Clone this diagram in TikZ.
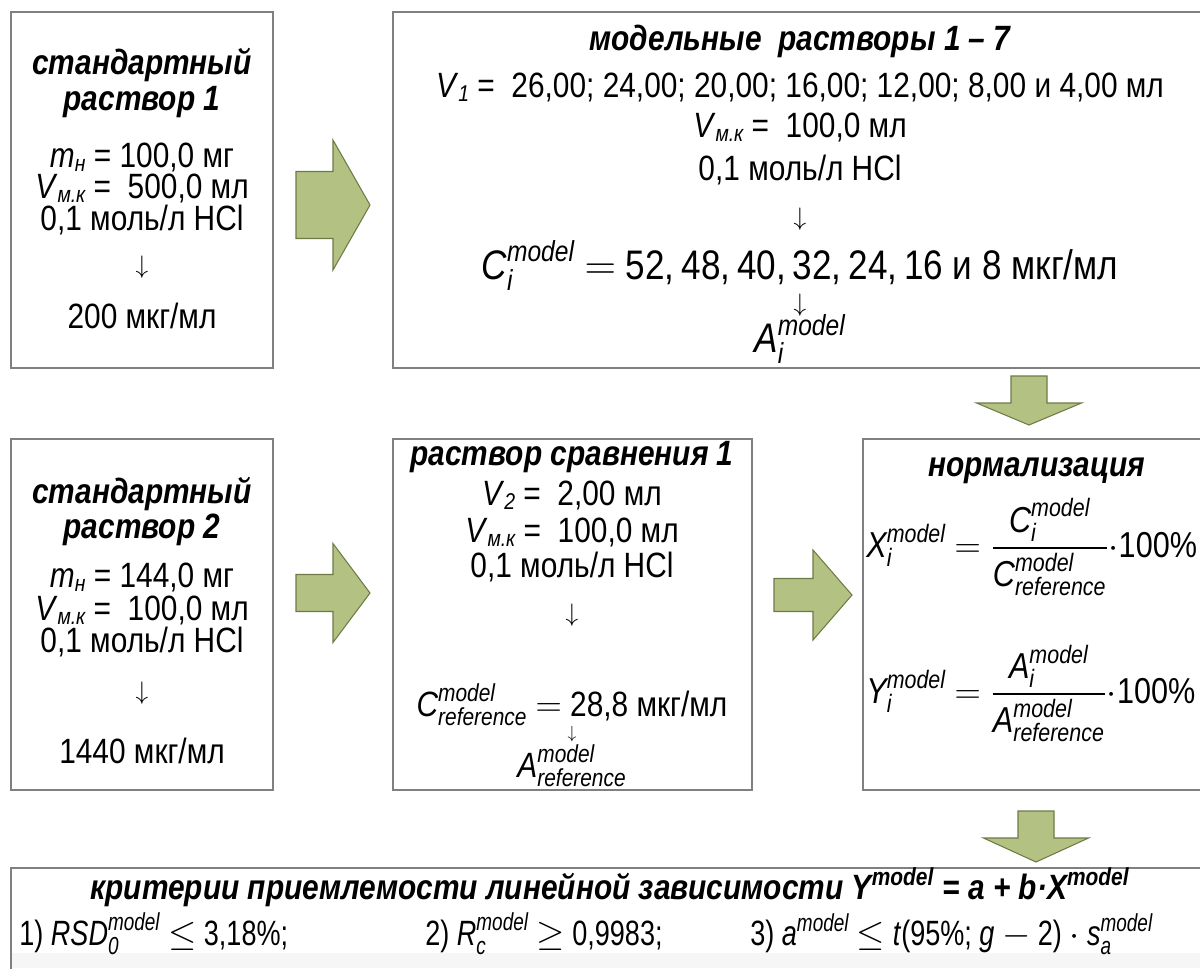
\documentclass[tikz,border=0pt]{standalone}
\usepackage{amsmath}
\usepackage{fontspec}
\setmainfont[FakeStretch=0.85]{Liberation Sans}
\newfontfamily\narrowsans[FakeStretch=0.77]{Liberation Sans}
\usetikzlibrary{fit}

\definecolor{boxline}{RGB}{128,128,128}
\definecolor{arrowfill}{RGB}{179,194,131}
\definecolor{arrowline}{RGB}{110,122,70}

% italic symbol with upper and lower index
\newcommand{\mvar}[3]{$\textit{#1}^{\textit{#2}}_{\textit{#3}}$}
% small italic index, lowered a little
\newcommand{\lowidx}[1]{\raisebox{-0.12em}{\fontsize{13}{13}\selectfont\itshape #1}}
% block arrows: start, head start, tip, centre, half shaft, half head
\newcommand{\rightblock}[6]{\draw[blockarrow] (#1,#4-#5) -- (#2,#4-#5) -- (#2,#4-#6) -- (#3,#4) -- (#2,#4+#6) -- (#2,#4+#5) -- (#1,#4+#5) -- cycle;}
\newcommand{\downblock}[6]{\draw[blockarrow] (#4-#5,#1) -- (#4-#5,#2) -- (#4-#6,#2) -- (#4,#3) -- (#4+#6,#2) -- (#4+#5,#2) -- (#4+#5,#1) -- cycle;}

\begin{document}
\begin{tikzpicture}[x=0.02cm, y=-0.02cm,
    panel/.style={draw=boxline, line width=0.8pt, inner sep=0pt},
    txt/.style={anchor=base, inner sep=0pt, font=\fontsize{20}{22}\selectfont},
    head/.style={txt, font=\fontsize{20}{22}\selectfont\bfseries\itshape},
    big/.style={txt, font=\fontsize{23.5}{26}\selectfont},
    formula/.style={txt, anchor=base west, font=\fontsize{20.5}{24}\selectfont},
    narrow/.style={txt, anchor=base west, font=\fontsize{20}{22}\narrowsans},
    down/.style={inner sep=0pt, font=\fontsize{14}{16}\selectfont},
    blockarrow/.style={draw=arrowline, fill=arrowfill, line width=0.6pt, line join=miter}
  ]
  \useasboundingbox (0,0) rectangle (1200,968);
  \clip (0,0) rectangle (1200,968);

  % boxes
  \node[panel, fit={(11,12) (273,368)}] (std1) {};
  \node[panel, fit={(393,12) (1207,368)}] (model) {};
  \node[panel, fit={(11,439) (273,790)}] (std2) {};
  \node[panel, fit={(393,439) (752,790)}] (ref) {};
  \node[panel, fit={(863,439) (1211,790)}] (norm) {};
  \fill[gray!7] (12,953) rectangle (1200,968);
  \node[panel, fit={(11,868) (1211,990)}] (crit) {};

  % standard solution 1
  \node[head] (s1a) at (142,74) {стандартный};
  \node[head] (s1b) at (142,110) {раствор 1};
  \node[txt] (s1c) at (142,167) {\textit{m}\lowidx{н} = 100,0 мг};
  \node[txt] (s1d) at (142,198) {\textit{V}\lowidx{м.к} = ~500,0 мл};
  \node[txt] (s1e) at (142,230) {0,1 моль/л HCl};
  \node[down] (s1f) at (142,267) {$\downarrow$};
  \node[txt] (s1g) at (142,328) {200 мкг/мл};

  % model solutions
  \node[head] (m1) at (800,50) {модельные~ растворы 1 – 7};
  \node[txt] (m2) at (800,97) {\textit{V}\lowidx{1} = ~26,00; 24,00; 20,00; 16,00; 12,00; 8,00 и 4,00 мл};
  \node[txt] (m3) at (800,137) {\textit{V}\lowidx{м.к} = ~100,0 мл};
  \node[txt] (m4) at (800,180) {0,1 моль/л HCl};
  \node[down] (m5) at (800,219) {$\downarrow$};
  \node[big] (m6) at (800,279) {\mvar{C}{model}{i} $=$ 52,\,48,\,40,\,32,\,24,\,16 и 8 мкг/мл};
  \node[down] (m7) at (800,305) {$\downarrow$};
  \node[big] (m8) at (800,352) {\mvar{A}{model}{i}};

  % standard solution 2
  \node[head] (s2a) at (142,503) {стандартный};
  \node[head] (s2b) at (142,538) {раствор 2};
  \node[txt] (s2c) at (142,587) {\textit{m}\lowidx{н} = 144,0 мг};
  \node[txt] (s2d) at (142,620) {\textit{V}\lowidx{м.к} = ~100,0 мл};
  \node[txt] (s2e) at (142,652) {0,1 моль/л HCl};
  \node[down] (s2f) at (142,693) {$\downarrow$};
  \node[txt] (s2g) at (142,763) {1440 мкг/мл};

  % reference solution
  \node[head] (r1) at (572,465) {раствор сравнения 1};
  \node[txt] (r2) at (572,505) {\textit{V}\lowidx{2} = ~2,00 мл};
  \node[txt] (r3) at (572,542) {\textit{V}\lowidx{м.к} = ~100,0 мл};
  \node[txt] (r4) at (572,577) {0,1 моль/л HCl};
  \node[down] (r5) at (572,615) {$\downarrow$};
  \node[txt] (r6) at (572,716) {\mvar{C}{model}{reference} $=$ 28,8 мкг/мл};
  \node[down, font=\fontsize{10}{12}\selectfont] (r7) at (572,734) {$\downarrow$};
  \node[txt] (r8) at (572,777) {\mvar{A}{model}{reference}};

  % normalisation
  \node[head] (n1) at (1037,476) {нормализация};
  \node[formula] (n2) at (866,557) {\mvar{X}{model}{i} $= \dfrac{\textit{C}^{\textit{model}}_{\textit{i}}}{\textit{C}^{\textit{model}}_{\textit{reference}}}\cdot$100\%};
  \node[formula] (n3) at (866,703) {\mvar{Y}{model}{i} $= \dfrac{\textit{A}^{\textit{model}}_{\textit{i}}}{\textit{A}^{\textit{model}}_{\textit{reference}}}\cdot$100\%};

  % criteria
  \node[head] (c1) at (610,899) {критерии приемлемости линейной зависимости Y\textsuperscript{model} = a + b·X\textsuperscript{model}};
  \node[narrow] (c2) at (19,945) {1) \mvar{RSD}{model}{0} $\le$ 3,18\%;};
  \node[narrow] (c3) at (425,945) {2) \mvar{R}{model}{c} $\ge$ 0,9983;};
  \node[narrow] (c4) at (750,945) {3) \mvar{a}{model}{} $\le$ \textit{t}(95\%; \textit{g} $-$ 2) $\cdot$ \mvar{s}{model}{a}};

  % block arrows
  \rightblock{296}{333}{370}{205}{33.5}{65}
  \rightblock{296}{333}{370}{593}{18.5}{49.5}
  \rightblock{774}{813}{852}{595}{16.5}{45}
  \downblock{376}{403}{425}{1029}{18}{52.5}
  \downblock{811}{838}{862}{1036}{18}{52.5}
\end{tikzpicture}
\end{document}
